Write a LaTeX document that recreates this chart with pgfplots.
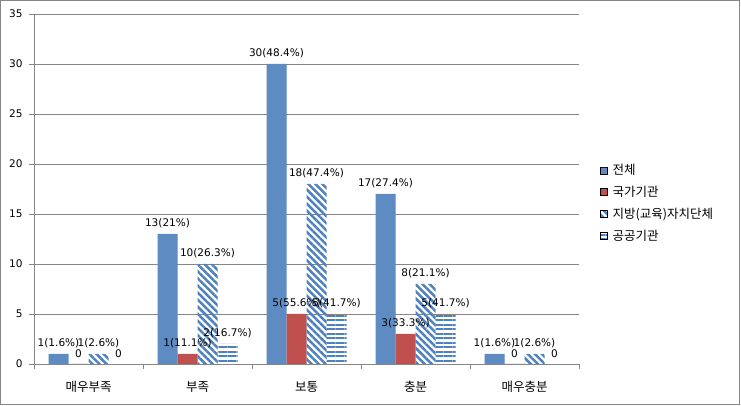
\documentclass[border=0pt]{standalone}
\usepackage{pgfplots}
\pgfplotsset{compat=1.18}
\usetikzlibrary{patterns.meta}
\usepackage{fontspec}
\setmainfont{DejaVu Sans}
\newfontfamily\kr{Noto Sans CJK KR}
\definecolor{xlblue}{HTML}{4F81BD}
\definecolor{xlred}{HTML}{C0504D}
\definecolor{gridgray}{HTML}{868686}
\begin{document}
\begin{tikzpicture}
\useasboundingbox (0,0) rectangle (741pt,406pt);
\draw[gridgray] (0.5pt,1.5pt) rectangle (739.5pt,405.5pt);
\begin{axis}[
  at={(34pt,42pt)}, anchor=south west,
  scale only axis, width=545pt, height=350pt,
  xmin=-0.5, xmax=4.5, ymin=0, ymax=35,
  axis x line*=bottom, axis y line*=left,
  axis line style={gridgray, -},
  ytick={0,5,...,35},
  /pgf/number format/assume math mode=true,
  ymajorgrids, grid style={gridgray, line width=0.8pt},
  xtick={0,1,2,3,4},
  xticklabels={매우부족,부족,보통,충분,매우충분},
  xticklabel style={font=\kr\fontsize{12.5}{14}\selectfont, yshift=-9pt},
  yticklabel style={font=\fontsize{10.5}{12}\selectfont, xshift=-3pt},
  minor xtick={-0.5,0.5,1.5,2.5,3.5,4.5},
  tick align=outside,
  major tick length=5pt, minor tick length=5pt,
  major x tick style={draw=none},
  tick style={gridgray},
  ybar=0pt, bar width=20pt,
  nodes near coords, point meta=explicit symbolic,
  every node near coord/.append style={font=\fontsize{10.5}{12}\selectfont, yshift=3pt, text=black},
  legend style={at={(1.033,0.46)}, anchor=west, draw=none, fill=none, font=\kr\fontsize{12.5}{14}\selectfont, row sep=6pt,
    /tikz/every odd column/.append style={column sep=3pt}},
  legend cell align=left,
  myleg/.style={legend image code/.code={\draw[##1] (0pt,-3.5pt) rectangle (7pt,3.5pt);}},
]
\addplot[myleg, draw=none, fill=xlblue, postaction={pattern={Dots[distance=2pt, radius=0.45pt]}, pattern color=white}]
  coordinates {(0,1)[1(1.6\%)] (1,13)[13(21\%)] (2,30)[30(48.4\%)] (3,17)[17(27.4\%)] (4,1)[1(1.6\%)]};
\addplot[myleg, draw=none, fill=xlred]
  coordinates {(0,0)[0] (1,1)[1(11.1\%)] (2,5)[5(55.6\%)] (3,3)[3(33.3\%)] (4,0)[0]};
\addplot[myleg, draw=none, fill=white, pattern={Lines[angle=-45, distance=5pt, line width=2.5pt]}, pattern color=xlblue]
  coordinates {(0,1)[1(2.6\%)] (1,10)[10(26.3\%)] (2,18)[18(47.4\%)] (3,8)[8(21.1\%)] (4,1)[1(2.6\%)]};
\addplot[myleg, draw=none, fill=white, pattern={Lines[angle=0, distance=4.5pt, line width=2pt]}, pattern color=xlblue]
  coordinates {(0,0)[0] (1,2)[2(16.7\%)] (2,5)[5(41.7\%)] (3,5)[5(41.7\%)] (4,0)[0]};
\legend{전체,국가기관,지방(교육)자치단체,공공기관}
\end{axis}
\end{tikzpicture}
\end{document}
